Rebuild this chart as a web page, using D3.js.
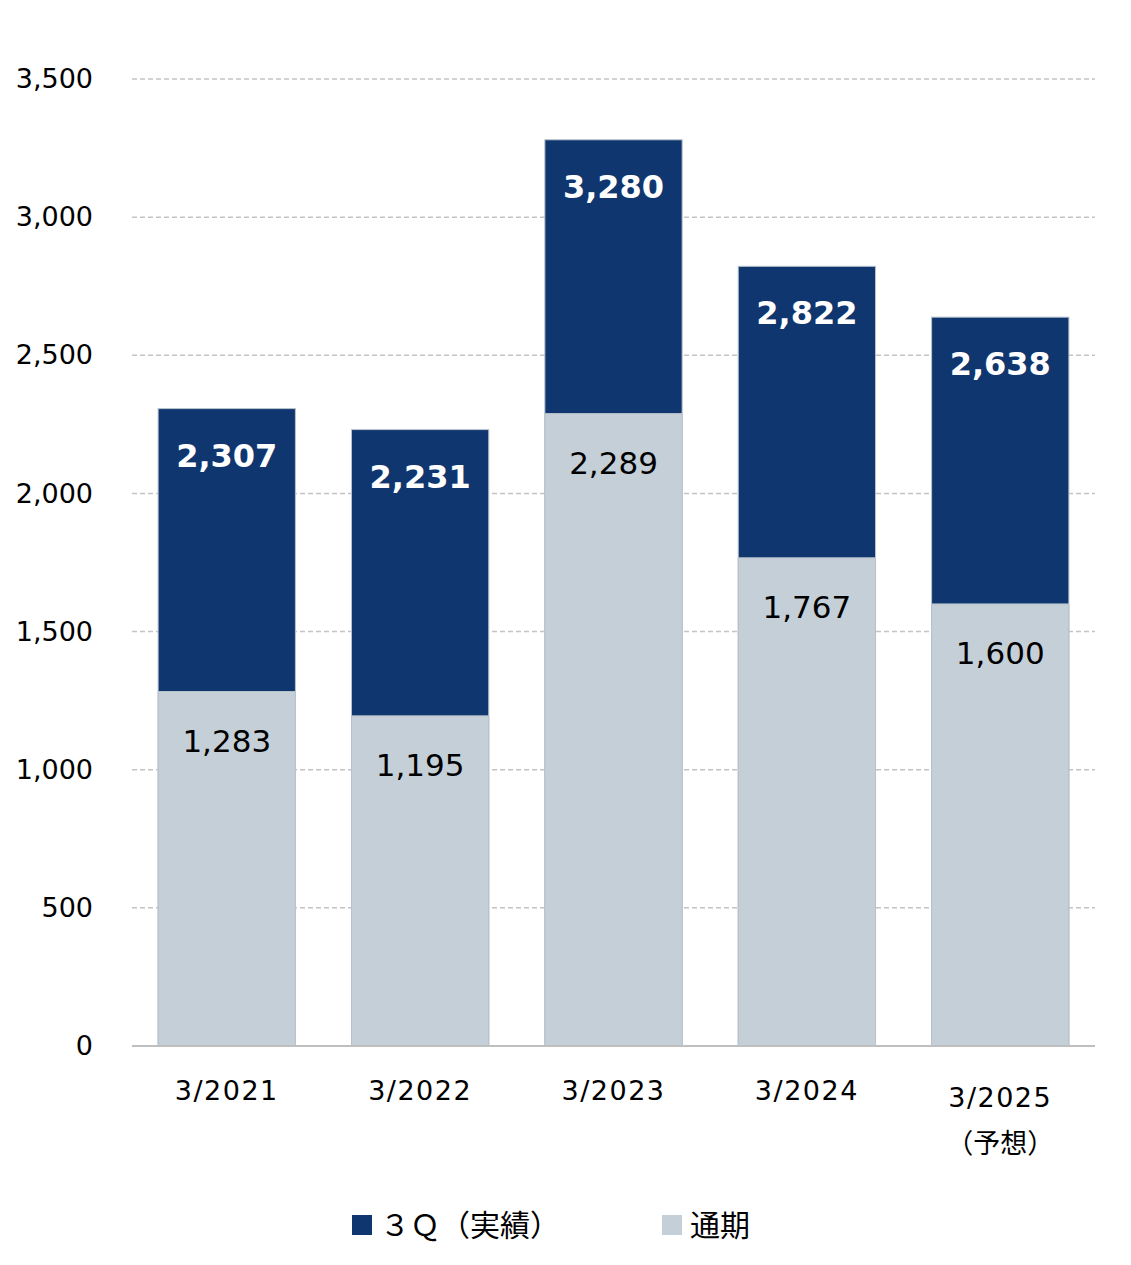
<!DOCTYPE html>
<html>
<head>
<meta charset="utf-8">
<script src="https://cdn.jsdelivr.net/npm/d3@7"></script>
<style>
	body { margin: 0; background: #fff; }
	text { font-family: "DejaVu Sans", "Noto Sans CJK JP", sans-serif; }
</style>
</head>
<body>
<div id="chart"></div>
<script>
const categories = ["3/2021", "3/2022", "3/2023", "3/2024", "3/2025"];
const sub_labels = ["", "", "", "", "（予想）"];
const dark_values = [2307, 2231, 3280, 2822, 2638];
const light_values = [1283, 1195, 2289, 1767, 1600];
const y_ticks = [0, 500, 1000, 1500, 2000, 2500, 3000, 3500];
const legend_labels = ["３Ｑ（実績）", "通期"];

const width = 1131,
	height = 1265;
const margin = { top: 79, right: 36, bottom: 219, left: 132 };
const plot_w = width - margin.left - margin.right,
	plot_h = height - margin.top - margin.bottom;

const dark_colour = "#10366F",
	light_colour = "#C5CFD7";

const svg = d3
	.select("#chart")
	.append("svg")
	.attr("width", width)
	.attr("height", height);

const g = svg
	.append("g")
	.attr("transform", `translate(${margin.left},${margin.top})`);

const x = d3
	.scaleBand()
	.domain(categories)
	.range([0, plot_w])
	.paddingInner(0.29)
	.paddingOuter(0.135);

const y = d3.scaleLinear().domain([0, 3500]).range([plot_h, 0]);

// gridlines
g.append("g")
	.selectAll("line")
	.data(y_ticks.filter((d) => d > 0))
	.join("line")
	.attr("x1", 0)
	.attr("x2", plot_w)
	.attr("y1", (d) => y(d))
	.attr("y2", (d) => y(d))
	.attr("stroke", "#C4C4C4")
	.attr("stroke-width", 1.5)
	.attr("stroke-dasharray", "5,3");

// y axis labels
const yAxis = g
	.append("g")
	.call(d3.axisLeft(y).tickValues(y_ticks).tickFormat(d3.format(",")).tickSize(0).tickPadding(39));
yAxis.select(".domain").remove();
yAxis.selectAll("text")
	.attr("font-size", 27)
	.attr("fill", "#000")
	.style("font-family", '"DejaVu Sans", sans-serif');

// bars
const bars = g.append("g");
bars.selectAll(".dark")
	.data(categories)
	.join("rect")
	.attr("x", (d) => x(d))
	.attr("y", (d, i) => y(dark_values[i]))
	.attr("width", x.bandwidth())
	.attr("height", (d, i) => plot_h - y(dark_values[i]))
	.attr("fill", dark_colour)
	.attr("stroke", "#B8C2CC")
	.attr("stroke-width", 1);

bars.selectAll(".light")
	.data(categories)
	.join("rect")
	.attr("x", (d) => x(d))
	.attr("y", (d, i) => y(light_values[i]))
	.attr("width", x.bandwidth())
	.attr("height", (d, i) => plot_h - y(light_values[i]))
	.attr("fill", light_colour)
	.attr("stroke", "#B8C2CC")
	.attr("stroke-width", 1);

// value labels
g.append("g")
	.selectAll("text")
	.data(categories)
	.join("text")
	.attr("x", (d) => x(d) + x.bandwidth() / 2)
	.attr("y", (d, i) => y(dark_values[i]) + 58)
	.attr("text-anchor", "middle")
	.attr("font-size", 32)
	.attr("font-weight", "bold")
	.attr("fill", "#fff")
	.text((d, i) => d3.format(",")(dark_values[i]));

g.append("g")
	.selectAll("text")
	.data(categories)
	.join("text")
	.attr("x", (d) => x(d) + x.bandwidth() / 2)
	.attr("y", (d, i) => y(light_values[i]) + 60)
	.attr("text-anchor", "middle")
	.attr("font-size", 31)
	.attr("fill", "#000")
	.text((d, i) => d3.format(",")(light_values[i]));

// baseline
g.append("line")
	.attr("x1", 0)
	.attr("x2", plot_w)
	.attr("y1", plot_h)
	.attr("y2", plot_h)
	.attr("stroke", "#BFBFBF")
	.attr("stroke-width", 2);

// x labels
g.append("g")
	.selectAll("text")
	.data(categories)
	.join("text")
	.attr("x", (d) => x(d) + x.bandwidth() / 2)
	.attr("y", (d, i) => plot_h + (sub_labels[i] ? 61 : 54))
	.attr("text-anchor", "middle")
	.attr("font-size", 27)
	.attr("letter-spacing", 1.5)
	.attr("fill", "#000")
	.text((d) => d);

g.append("g")
	.selectAll("text")
	.data(categories.filter((d, i) => sub_labels[i]))
	.join("text")
	.attr("x", (d) => x(d) + x.bandwidth() / 2)
	.attr("y", plot_h + 107)
	.attr("text-anchor", "middle")
	.attr("font-size", 27)
	.attr("fill", "#000")
	.style("font-family", '"Noto Sans CJK JP", sans-serif')
	.text((d) => sub_labels[categories.indexOf(d)]);

// legend
const legend_x = [352, 662];
const legend_colours = [dark_colour, light_colour];
const legend = svg.append("g")
	.selectAll("g")
	.data(legend_labels)
	.join("g")
	.attr("transform", (d, i) => `translate(${legend_x[i]},1215)`);
legend.append("rect")
	.attr("width", 20)
	.attr("height", 20)
	.attr("fill", (d, i) => legend_colours[i]);
legend.append("text")
	.attr("x", (d, i) => (i === 0 ? 28 : 28))
	.attr("y", 20)
	.attr("dy", 1)
	.attr("font-size", 30)
	.attr("fill", "#000")
	.style("font-family", '"Noto Sans CJK JP", sans-serif')
	.text((d) => d);
</script>
</body>
</html>
